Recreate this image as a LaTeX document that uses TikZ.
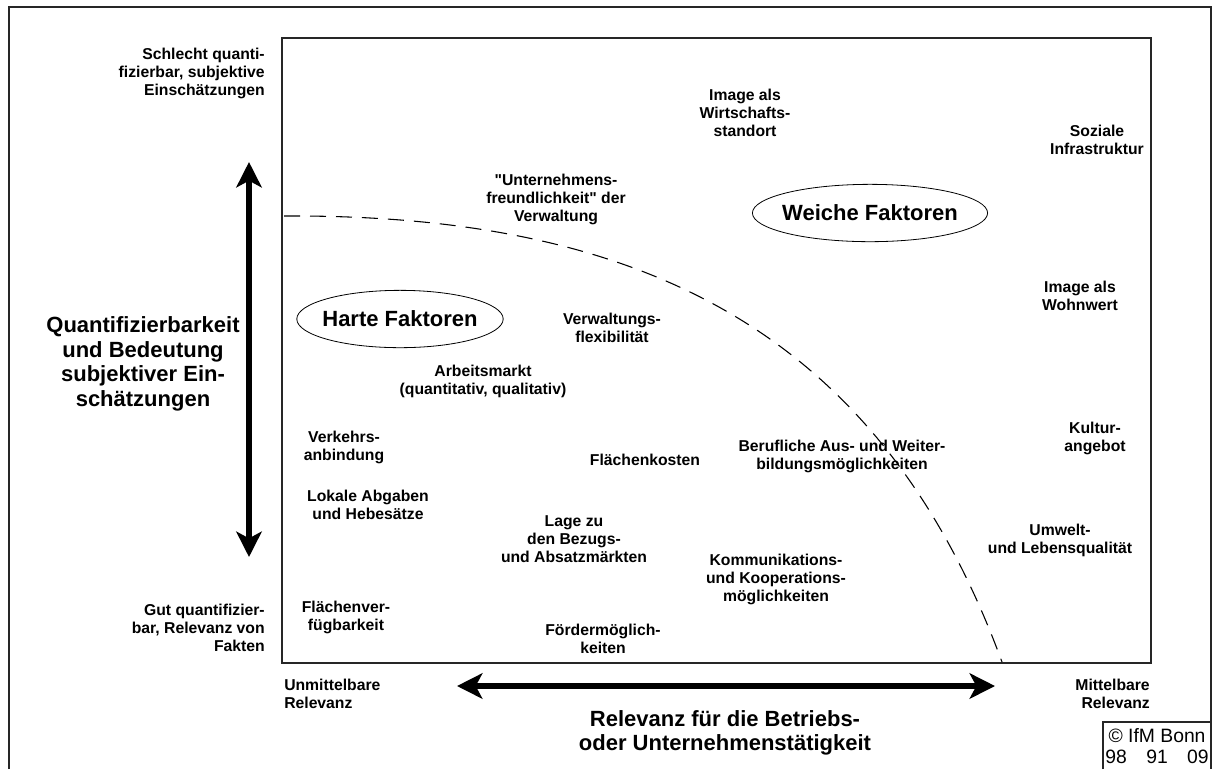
\documentclass[tikz,border=0pt]{standalone}
\usepackage{fontspec}
\setmainfont{Liberation Sans}
\usetikzlibrary{arrows.meta,shapes}

\begin{document}
\begin{tikzpicture}[x=0.75pt,y=-0.75pt,
		lab/.style={align=center,inner sep=0pt,font=\bfseries\fontsize{11.8}{13.5}\selectfont},
		big/.style={align=center,inner sep=0pt,font=\bfseries\fontsize{16.5}{18.5}\selectfont},
		faktor/.style={ellipse,draw,semithick,inner xsep=-3.5pt,inner ysep=0pt,minimum height=43pt,font=\bfseries\fontsize{16.5}{18.5}\selectfont},
		fat/.style={line width=4.5pt,{Stealth[length=19pt,width=19pt,inset=5pt]}-{Stealth[length=19pt,width=19pt,inset=5pt]}}]

		\useasboundingbox (0,0) rectangle (1213,769);
		\draw[line width=1.2pt,black!85] (9,769) |- (1211,7) -- (1211,769);
		\draw[line width=1.1pt,black!85] (282,38) rectangle (1151,663);

		\node[lab,anchor=east,align=right] (schlecht) at (265,73) {Schlecht quanti-\\fizierbar, subjektive\\Einschätzungen};
		\node[lab,anchor=east,align=right] (gut) at (265,628) {Gut quantifizier-\\bar, Relevanz von\\Fakten};
		\node[big] (quant) at (143,364) {Quantifizierbarkeit\\und Bedeutung\\subjektiver Ein-\\schätzungen};

		\coordinate (qtop) at (249,162);
		\coordinate (qbot) at (249,557);
		\draw[fat] (qtop) -- (qbot);

		\node[lab,anchor=west,align=left] (unmittel) at (284,694) {Unmittelbare\\Relevanz};
		\node[lab,anchor=east,align=right] (mittel) at (1150,694) {Mittelbare\\Relevanz};
		\coordinate (rleft) at (457,686);
		\coordinate (rright) at (995,686);
		\draw[fat] (rleft) -- (rright);
		\node[big] (relevanz) at (725,733) {Relevanz für die Betriebs-\\oder Unternehmenstätigkeit};

		\draw[line width=1.1pt,black!85] (1103,769) |- (1211,722);
		\node[align=center,inner sep=0pt,font=\fontsize{14.5}{15.5}\selectfont] (ifm) at (1157,746) {© IfM Bonn\\98\quad91\quad09};

		\node[faktor] (harte) at (400,319) {Harte Faktoren};
		\node[faktor] (weiche) at (870,213) {Weiche Faktoren};

		\coordinate (grenze) at (284,216);
		\coordinate (grenzende) at (1002,662);
		\draw[dash pattern=on 12pt off 7.5pt,line width=0.8pt] (grenze) .. controls (640,214) and (880,330) .. (grenzende);

		\node[lab] (wirtschaft) at (745,113) {Image als\\Wirtschafts-\\standort};
		\node[lab] (sozial) at (1097,140) {Soziale\\Infrastruktur};
		\node[lab] (freundlich) at (556,199) {\textquotedbl Unternehmens-\\freundlichkeit\textquotedbl{} der\\Verwaltung};
		\node[lab] (wohnwert) at (1080,296) {Image als\\Wohnwert};
		\node[lab] (flexibel) at (612,328) {Verwaltungs-\\flexibilität};
		\node[lab] (arbeit) at (483,381) {Arbeitsmarkt\\(quantitativ, qualitativ)};
		\node[lab] (verkehr) at (344,447) {Verkehrs-\\anbindung};
		\node[lab] (flkosten) at (645,460) {Flächenkosten};
		\node[lab] (beruf) at (842,456) {Berufliche Aus- und Weiter-\\bildungsmöglichkeiten};
		\node[lab] (kultur) at (1095,438) {Kultur-\\angebot};
		\node[lab] (abgaben) at (368,505) {Lokale Abgaben\\und Hebesätze};
		\node[lab] (lage) at (574,539) {Lage zu\\den Bezugs-\\und Absatzmärkten};
		\node[lab] (umwelt) at (1060,540) {Umwelt-\\und Lebensqualität};
		\node[lab] (komm) at (776,579) {Kommunikations-\\und Kooperations-\\möglichkeiten};
		\node[lab] (flverf) at (346,617) {Flächenver-\\fügbarkeit};
		\node[lab] (foerder) at (603,639) {Fördermöglich-\\keiten};

\end{tikzpicture}
\end{document}
